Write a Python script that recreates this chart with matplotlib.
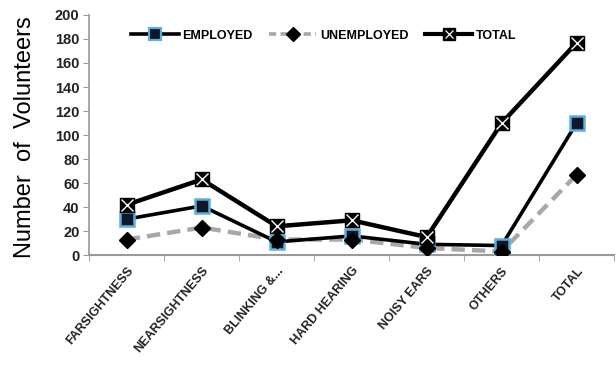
import numpy as np
import matplotlib.pyplot as plt
from matplotlib.lines import Line2D

categories = ["FARSIGHTNESS", "NEARSIGHTNESS", "BLINKING &...", "HARD HEARING",
              "NOISY EARS", "OTHERS", "TOTAL"]
employed = [30, 41, 11, 16, 9, 8, 110]
unemployed = [13, 23, 13, 13, 6, 3, 67]
total = [42, 63, 24, 29, 15, 110, 177]
yticks = list(range(0, 201, 20))

narrow = ["Liberation Sans Narrow", "Liberation Sans", "DejaVu Sans"]

fig = plt.figure(figsize=(6.16, 3.65), dpi=100)
ax = fig.add_axes([0.145, 0.301, 0.852, 0.658])

x = np.arange(len(categories))

# total: black line, black square with white cross on top
ax.plot(x, total, color="black", lw=3.2, zorder=3)
ax.plot(x, total, ls="none", marker="s", ms=10, mfc="black", mec="black", zorder=4)
ax.plot(x, total, ls="none", marker="x", ms=8, mew=1.0, color="white", zorder=5)

# employed: black line, dark square with blue edge
ax.plot(x, employed, color="black", lw=2.6, marker="s", ms=10,
        mfc="#0d1726", mec="#5aaee0", mew=1.8, zorder=3)

# unemployed: grey dashed line, black diamonds
ax.plot(x, unemployed, color="#a8a8a8", lw=3.2, ls=(0, (3, 1.6)), zorder=2)
ax.plot(x, unemployed, ls="none", marker="D", ms=8, mfc="black", mec="black", zorder=4)

ax.set_xlim(-0.5, len(categories) - 0.5)
ax.set_ylim(0, 200)
ax.set_yticks(yticks)
ax.set_yticklabels([str(v) for v in yticks], fontsize=10.5, fontweight="bold",
                   family=narrow, color="#222222")
ax.set_xticks(x)
ax.set_xticklabels(categories, rotation=50, ha="right", rotation_mode="anchor",
                   fontsize=9, fontweight="bold", family=narrow, color="#222222")
ax.set_xticks(np.arange(-0.5, len(categories), 1), minor=True)
ax.tick_params(axis="x", which="major", length=0, pad=7)
ax.tick_params(axis="x", which="minor", length=4, color="#9a9a9a", direction="out")
ax.tick_params(axis="y", length=4, color="#9a9a9a", pad=3)

for side in ["top", "right"]:
    ax.spines[side].set_visible(False)
ax.spines["left"].set_color("#9a9a9a")
ax.spines["bottom"].set_color("#9a9a9a")
ax.spines["left"].set_linewidth(1.2)
ax.spines["bottom"].set_linewidth(1.5)

# legend with the same marker styles
h_emp = Line2D([], [], color="black", lw=2.6, marker="s", ms=8,
               mfc="#0d1726", mec="#5aaee0", mew=1.6)
h_unemp = Line2D([], [], color="#a8a8a8", lw=2.6, ls=(0, (2, 1.2)), marker="D",
                 ms=7, mfc="black", mec="black")
h_tot_line = Line2D([], [], color="black", lw=3, marker="s", ms=8, mfc="black", mec="black")
h_tot_x = Line2D([], [], ls="none", marker="x", ms=6, mew=0.9, color="white")
leg = ax.legend([h_emp, h_unemp, (h_tot_line, h_tot_x)],
                ["EMPLOYED", "UNEMPLOYED", "TOTAL"],
                loc="upper left", bbox_to_anchor=(0.058, 0.985), ncol=3, frameon=False,
                handlelength=3.8, handletextpad=0.3, columnspacing=1.3,
                prop={"family": narrow, "weight": "bold", "size": 9})

fig.text(0.04, 0.625, "Number  of  Volunteers", rotation=90, ha="center", va="center",
         fontsize=17, family=narrow, color="black")

fig.savefig("out.png", dpi=100)
